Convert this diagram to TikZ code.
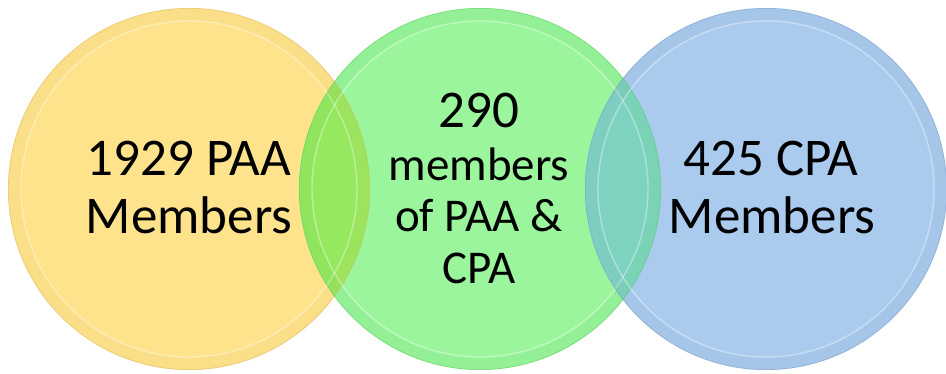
\documentclass[tikz,border=0pt]{standalone}
\usepackage{fontspec}
\setmainfont{Carlito}
\definecolor{yfill}{HTML}{FEE28C}
\definecolor{gfill}{HTML}{9AF59C}
\definecolor{bfill}{HTML}{AACBEE}
\definecolor{ygl}{HTML}{96E85E}
\definecolor{gbl}{HTML}{7DD3C0}
\definecolor{yedge}{HTML}{D9B868}
\definecolor{gedge}{HTML}{5FC865}
\definecolor{bedge}{HTML}{7F9CC0}
\tikzset{
  bigtext/.style={anchor=base, inner sep=0pt, font=\fontsize{53}{58}\selectfont},
  smalltext/.style={anchor=base, inner sep=0pt, font=\fontsize{47}{51}\selectfont},
}
\begin{document}
\begin{tikzpicture}[x=1pt,y=-1pt]
\useasboundingbox (0,0) rectangle (946,373);
\fill[white] (0,0) rectangle (946,373);
\def\R{181pt}
\def\Ra{175pt}
\def\Rb{168pt}
\def\Rc{180.6pt}
\coordinate (cy) at (189,189);
\coordinate (cg) at (480,189);
\coordinate (cb) at (766,189);
% fills
\fill[yfill] (cy) circle[radius=\R];
\fill[gfill] (cg) circle[radius=\R];
\fill[bfill] (cb) circle[radius=\R];
% overlaps
\begin{scope}
  \clip (cy) circle[radius=\R];
  \fill[ygl] (cg) circle[radius=\R];
\end{scope}
\begin{scope}
  \clip (cg) circle[radius=\R];
  \fill[gbl] (cb) circle[radius=\R];
\end{scope}
% rims
\foreach \c/\col in {cy/yedge, cg/gedge, cb/bedge} {
  \draw[line width=12pt, draw=\col, draw opacity=0.09] (\c) circle[radius=\Ra];
  \draw[line width=1.4pt, draw=white, draw opacity=0.35] (\c) circle[radius=\Rb];
  \draw[line width=0.6pt, draw=\col, draw opacity=0.55] (\c) circle[radius=\Rc];
}
% texts
\node[bigtext] (y1) at (189,175) {1929 PAA};
\node[bigtext] (y2) at (189,233) {Members};
\node[bigtext] (g1) at (479,127) {290};
\node[smalltext] (g2) at (479,180) {members};
\node[smalltext] (g3) at (479,231) {of PAA \&};
\node[smalltext] (g4) at (479,283) {CPA};
\node[bigtext] (b1) at (771,175) {425 CPA};
\node[bigtext] (b2) at (772,233) {Members};
\end{tikzpicture}
\end{document}
